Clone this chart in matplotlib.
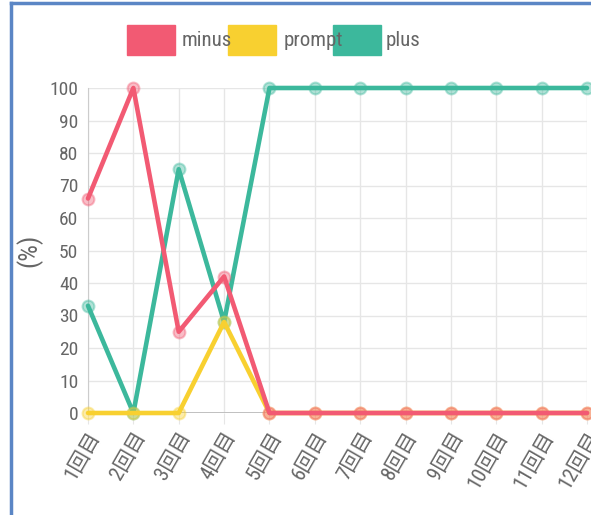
import matplotlib
matplotlib.use("Agg")
import matplotlib.pyplot as plt
from matplotlib.patches import Rectangle
from matplotlib.lines import Line2D

plt.rcParams['font.family'] = ['Roboto Condensed', 'Liberation Sans', 'Noto Sans CJK JP', 'DejaVu Sans']

categories = ["1回目", "2回目", "3回目", "4回目", "5回目", "6回目",
              "7回目", "8回目", "9回目", "10回目", "11回目", "12回目"]
minus = [66, 100, 25, 42, 0, 0, 0, 0, 0, 0, 0, 0]
prompt = [0, 0, 0, 28, 0, 0, 0, 0, 0, 0, 0, 0]
plus = [33, 0, 75, 28, 100, 100, 100, 100, 100, 100, 100, 100]
series_names = ["minus", "prompt", "plus"]
colors = ["#f25a73", "#f8d030", "#3cb89c"]
yticks = list(range(0, 101, 10))

W, H = 591, 515
fig = plt.figure(figsize=(W / 100, H / 100), dpi=100)
ax = fig.add_axes([88 / W, 102 / H, 499 / W, 325 / H])

x = list(range(len(categories)))
data = [minus, prompt, plus]
for i, (name, vals, c) in enumerate(zip(series_names, data, colors)):
    z = 10 - i
    ax.plot(x, vals, color=c, lw=3.3, zorder=z, solid_capstyle='round',
            solid_joinstyle='round', clip_on=False)
    ax.plot(x, vals, ls='none', marker='o', ms=8.5, mfc=c, mec=c, mew=1.5,
            alpha=0.4, zorder=z, clip_on=False)

ax.set_xlim(0, len(categories) - 1)
ax.set_ylim(0, 100)
ax.set_yticks(yticks)
ax.set_yticklabels([str(v) for v in yticks], fontsize=14, color='#666666')
ax.set_xticks(x)
ax.set_xticklabels(categories, rotation=60, ha='right', rotation_mode='anchor',
                   fontsize=15, color='#666666')
ax.tick_params(axis='x', length=8, color='#e6e6e6', pad=3)
ax.tick_params(axis='y', length=0, pad=7)
ax.grid(True, color='#e6e6e6', lw=1)
ax.axhline(0, color='#bbbbbb', lw=2, zorder=1)
for s in ['top', 'right', 'bottom']:
    ax.spines[s].set_visible(False)
ax.spines['left'].set_color('#cccccc')
ax.set_axisbelow(True)
ax.set_ylabel("(%)", fontsize=19, color='#666666')
ax.yaxis.set_label_coords(-46 / 499, 0.5)

# legend
box_x = [127, 228, 333]
text_x = [182, 284, 386]
for bx, tx, name, c in zip(box_x, text_x, series_names, colors):
    fig.patches.append(Rectangle((bx / W, 1 - 55 / H), 48 / W, 30 / H,
                                 transform=fig.transFigure, color=c))
    fig.text(tx / W, 1 - 40 / H, name, fontsize=15, color='#666666', va='center', ha='left')

# outer border (left and top only visible)
fig.lines.append(Line2D([11 / W, 11 / W], [0, 1 - 3 / H], transform=fig.transFigure,
                        color='#5b86c5', lw=2.5))
fig.lines.append(Line2D([11 / W, 1], [1 - 3 / H, 1 - 3 / H], transform=fig.transFigure,
                        color='#5b86c5', lw=2.5))

fig.savefig("out.png", dpi=100)
